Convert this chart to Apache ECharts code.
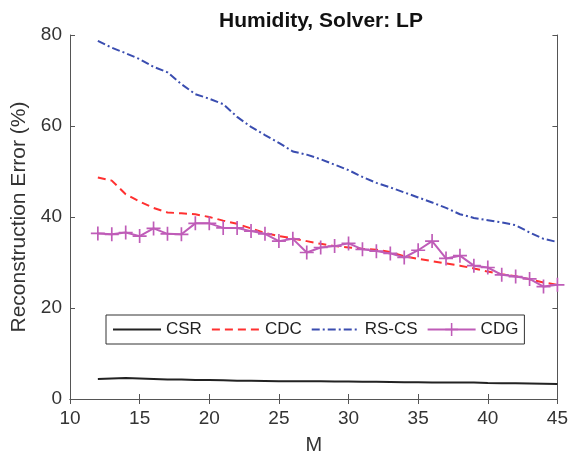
<!DOCTYPE html>
<html>
<head>
<meta charset="utf-8">
<script src="https://cdn.jsdelivr.net/npm/echarts@6/dist/echarts.min.js"></script>
<style>
  html, body { margin: 0; padding: 0; background: #fff; }
  #chart { width: 571px; height: 461px; }
</style>
</head>
<body>
<div id="chart"></div>
<script>
// M values (x axis)
var mValues = [12,13,14,15,16,17,18,19,20,21,22,23,24,25,26,27,28,29,30,31,32,33,34,35,36,37,38,39,40,41,42,43,44,45];

// reconstruction error (%)
var csr = [4.4,4.5,4.6,4.5,4.4,4.3,4.3,4.2,4.2,4.1,4.0,4.0,3.95,3.9,3.9,3.9,3.9,3.85,3.85,3.8,3.8,3.75,3.7,3.7,3.65,3.65,3.6,3.6,3.5,3.45,3.45,3.4,3.35,3.3];
var cdc = [48.7,48.0,45.0,43.4,42.0,41.0,40.8,40.6,40.0,39.2,38.5,37.5,36.5,35.8,35.3,34.7,34.1,33.6,33.3,33.0,32.8,32.3,31.4,30.8,30.3,29.8,29.3,28.7,28.0,27.4,27.0,26.3,25.6,25.1];
var rscs = [78.7,77.2,76.0,74.7,73.0,71.8,69.2,67.0,66.0,64.8,62.0,59.8,58.0,56.3,54.4,53.7,52.7,51.5,50.3,48.8,47.5,46.5,45.4,44.3,43.2,42.0,40.6,39.8,39.3,38.8,38.2,36.6,35.2,34.5];
var cdg = [36.4,36.2,36.6,35.8,37.5,36.3,36.2,38.6,38.6,37.6,37.6,36.9,36.3,34.7,35.2,32.2,33.3,33.6,34.2,32.9,32.5,32.0,31.1,32.7,34.7,30.9,31.5,29.3,28.9,27.3,26.9,26.4,24.7,25.1];

var seriesNames = ['CSR', 'CDC', 'RS-CS', 'CDG'];

function pairs(vals) {
  var out = [];
  for (var i = 0; i < mValues.length; i++) {
    out.push([mValues[i], vals[i]]);
  }
  return out;
}

var font = 'Liberation Sans, Arial, sans-serif';
var axisColor = '#555';
var plusSymbol = 'path://M4.4,0H5.6V10H4.4ZM0,4.4H10V5.6H0Z';

// legend entries: hide the default symbol for the plain lines
var legendData = seriesNames.map(function (n) {
  if (n === 'CDG') return { name: n };
  return { name: n, itemStyle: { opacity: 0 } };
});

var chart = echarts.init(document.getElementById('chart'));

var option = {
  animation: false,
  backgroundColor: '#fff',
  title: {
    text: 'Humidity, Solver: LP',
    left: 316,
    top: 6,
    textAlign: 'center',
    textStyle: { fontFamily: font, fontSize: 21, fontWeight: 'bold', color: '#111' }
  },
  grid: { left: 70, right: 11, top: 35, bottom: 62 },
  legend: {
    data: legendData,
    left: 106,
    top: 315,
    width: 430,
    padding: [6, 6, 6, 6],
    itemGap: 9,
    itemWidth: 48,
    itemHeight: 16,
    borderColor: '#333',
    borderWidth: 1,
    backgroundColor: '#fff',
    textStyle: { fontFamily: font, fontSize: 17, color: '#222' }
  },
  xAxis: [{
    type: 'value',
    min: 10, max: 45, interval: 5,
    name: 'M',
    nameLocation: 'middle',
    nameGap: 36,
    nameTextStyle: { fontFamily: font, fontSize: 20, color: '#333' },
    axisLine: { show: true, lineStyle: { color: axisColor } },
    axisTick: { inside: true, length: 5, lineStyle: { color: axisColor } },
    axisLabel: { fontFamily: font, fontSize: 19, color: '#333', margin: 10 },
    splitLine: { show: false }
  }, {
    type: 'value',
    position: 'top',
    min: 10, max: 45, interval: 5,
    axisLine: { show: true, lineStyle: { color: axisColor } },
    axisTick: { inside: true, length: 5, lineStyle: { color: axisColor } },
    axisLabel: { show: false },
    splitLine: { show: false }
  }],
  yAxis: [{
    type: 'value',
    min: 0, max: 80, interval: 20,
    name: 'Reconstruction Error (%)',
    nameLocation: 'middle',
    nameGap: 37,
    nameTextStyle: { fontFamily: font, fontSize: 21, color: '#333' },
    axisLine: { show: true, lineStyle: { color: axisColor } },
    axisTick: { inside: true, length: 5, lineStyle: { color: axisColor } },
    axisLabel: { fontFamily: font, fontSize: 19, color: '#333', margin: 8 },
    splitLine: { show: false }
  }, {
    type: 'value',
    position: 'right',
    min: 0, max: 80, interval: 20,
    axisLine: { show: true, lineStyle: { color: axisColor } },
    axisTick: { inside: true, length: 5, lineStyle: { color: axisColor } },
    axisLabel: { show: false },
    splitLine: { show: false }
  }],
  series: [{
    name: 'CSR',
    type: 'line',
    data: pairs(csr),
    symbol: 'none',
    color: '#222',
    lineStyle: { color: '#222', width: 2 }
  }, {
    name: 'CDC',
    type: 'line',
    data: pairs(cdc),
    symbol: 'none',
    color: '#ff3030',
    lineStyle: { color: '#ff3030', width: 2, type: [8, 5] }
  }, {
    name: 'RS-CS',
    type: 'line',
    data: pairs(rscs),
    symbol: 'none',
    color: '#3a4db0',
    lineStyle: { color: '#3a4db0', width: 2, type: [8, 3, 2, 3] }
  }, {
    name: 'CDG',
    type: 'line',
    data: pairs(cdg),
    symbol: plusSymbol,
    symbolSize: 14,
    color: '#bf5cb8',
    itemStyle: { color: '#bf5cb8' },
    lineStyle: { color: '#bf5cb8', width: 2 }
  }]
};

chart.setOption(option);
</script>
</body>
</html>
